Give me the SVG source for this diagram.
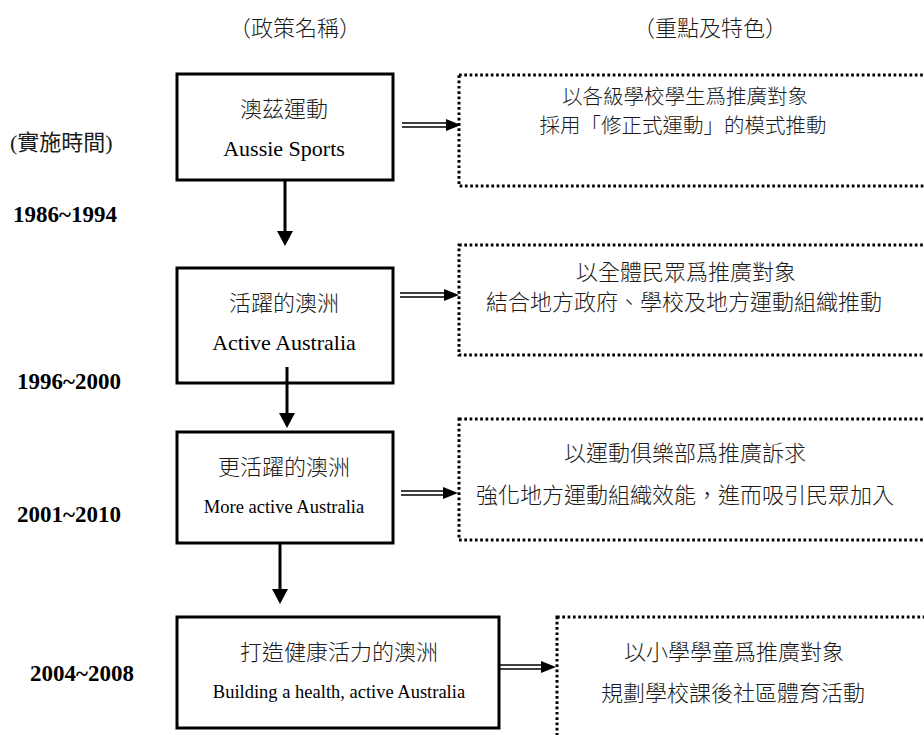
<svg xmlns="http://www.w3.org/2000/svg" width="924" height="735" viewBox="0 0 924 735">
<defs>
<style>
.box{fill:#fff;stroke:#000;stroke-width:3}
.dot{fill:none;stroke:#000;stroke-width:3;stroke-dasharray:2.7 2.6}
.cjk{font-family:"Noto Sans CJK TC","Noto Sans CJK SC",sans-serif;font-weight:300;font-size:22px;fill:#1a1a1a;text-anchor:middle}
.cjks{font-family:"Noto Sans CJK TC","Noto Sans CJK SC",sans-serif;font-weight:300;font-size:20.5px;fill:#1a1a1a;text-anchor:middle}
.en{font-family:"Liberation Serif","Times New Roman",serif;font-size:22px;fill:#000;text-anchor:middle}
.en2{font-family:"Liberation Serif","Times New Roman",serif;font-size:18.5px;fill:#000;text-anchor:middle}
.yr{font-family:"Liberation Serif","Times New Roman",serif;font-weight:bold;font-size:23px;fill:#000}
.lbl{font-family:"Liberation Serif","Noto Sans CJK TC",serif;font-size:22px;fill:#1a1a1a}
.dl{stroke:#000;stroke-width:1.3;fill:none}
.vl{stroke:#000;stroke-width:3;fill:none}
.ah{fill:#000}
</style>
</defs>
<rect width="924" height="735" fill="#fff"/>

<g id="headers">
<text class="cjk" x="295" y="36">（政策名稱）</text>
<text class="cjk" x="710" y="36">（重點及特色）</text>
<text class="lbl" x="10" y="150">(實施時間)</text>
</g>

<g id="years">
<text class="yr" x="13" y="222">1986~1994</text>
<text class="yr" x="17" y="389">1996~2000</text>
<text class="yr" x="17" y="522">2001~2010</text>
<text class="yr" x="30" y="681">2004~2008</text>
</g>

<g id="policy1">
<rect class="box" x="177" y="74" width="216" height="106"/>
<text class="cjk" x="284" y="117">澳茲運動</text>
<text class="en" x="284" y="156">Aussie Sports</text>
</g>
<g id="policy2">
<rect class="box" x="177" y="268" width="216" height="115"/>
<text class="cjk" x="284" y="311">活躍的澳洲</text>
<text class="en" x="284" y="350">Active Australia</text>
</g>
<g id="policy3">
<rect class="box" x="177" y="432" width="216" height="111"/>
<text class="cjk" x="284" y="475">更活躍的澳洲</text>
<text class="en2" x="284" y="513">More active Australia</text>
</g>
<g id="policy4">
<rect class="box" x="177" y="617" width="322" height="111"/>
<text class="cjk" x="339" y="660">打造健康活力的澳洲</text>
<text class="en2" x="339" y="698">Building a health, active Australia</text>
</g>

<g id="feature1">
<rect class="dot" x="459" y="75" width="500" height="111"/>
<text class="cjks" x="685" y="104">以各級學校學生爲推廣對象</text>
<text class="cjks" x="683" y="133">採用「修正式運動」的模式推動</text>
</g>
<g id="feature2">
<rect class="dot" x="459" y="245" width="500" height="110"/>
<text class="cjk" x="686" y="280">以全體民眾爲推廣對象</text>
<text class="cjk" x="684" y="310">結合地方政府、學校及地方運動組織推動</text>
</g>
<g id="feature3">
<rect class="dot" x="459" y="419" width="500" height="121"/>
<text class="cjk" x="685" y="461">以運動俱樂部爲推廣訴求</text>
<text class="cjk" x="685" y="503">強化地方運動組織效能，進而吸引民眾加入</text>
</g>
<g id="feature4">
<rect class="dot" x="557" y="617" width="400" height="200"/>
<text class="cjk" x="734" y="660">以小學學童爲推廣對象</text>
<text class="cjk" x="733" y="701">規劃學校課後社區體育活動</text>
</g>

<g id="connectors">
<path class="vl" d="M285 180V234"/>
<polygon class="ah" points="277,231 293,231 285,246"/>
<path class="vl" d="M287 367V415"/>
<polygon class="ah" points="279,413 295,413 287,428"/>
<path class="vl" d="M280 543V591"/>
<polygon class="ah" points="272,589 288,589 280,604"/>

<path class="dl" d="M402 123H450M402 127H450"/>
<polygon class="ah" points="446,119 461,125 446,131"/>
<path class="dl" d="M400 293H448M400 297H448"/>
<polygon class="ah" points="444,289 459,295 444,301"/>
<path class="dl" d="M401 491H447M401 495H447"/>
<polygon class="ah" points="443,487 458,493 443,499"/>
<path class="dl" d="M500 665H545M500 669H545"/>
<polygon class="ah" points="541,661 556,667 541,673"/>
</g>
</svg>
